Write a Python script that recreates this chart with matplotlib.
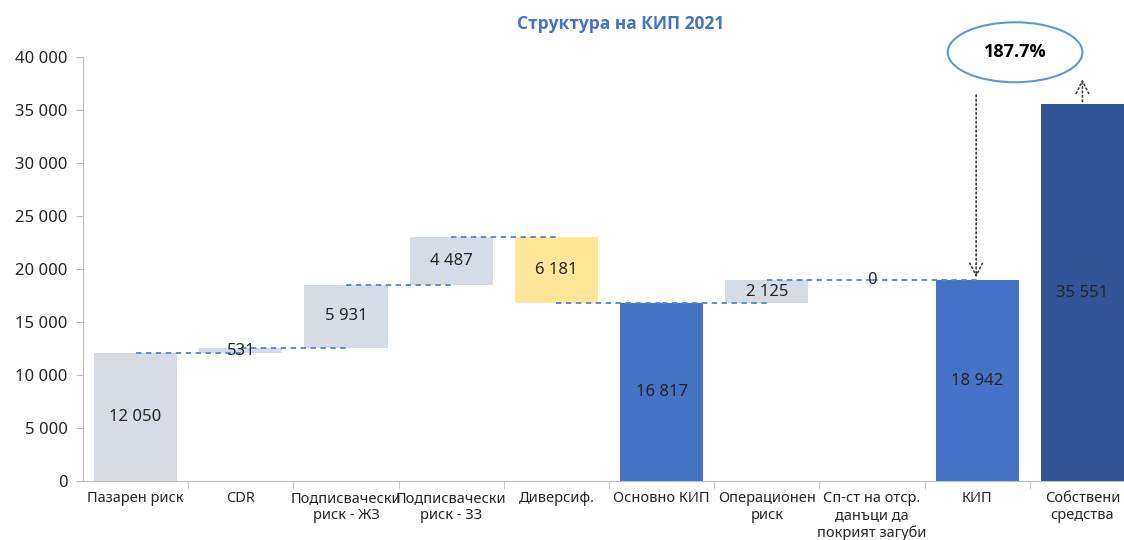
import numpy as np
import matplotlib.pyplot as plt
from matplotlib.patches import Ellipse

plt.rcParams['font.family'] = ['Liberation Sans Narrow', 'Noto Sans', 'DejaVu Sans']

kategorii = ["Пазарен риск", "CDR", "Подписвачески\nриск - ЖЗ", "Подписвачески\nриск - ЗЗ",
             "Диверсиф.", "Основно КИП", "Операционен\nриск",
             "Сп-ст на отср.\nданъци да\nпокрият загуби", "КИП", "Собствени\nсредства"]
stojnosti = [12050, 531, 5931, 4487, -6181, 16817, 2125, 0, 18942, 35551]
etiketi = ["12 050", "531", "5 931", "4 487", "6 181", "16 817", "2 125", "0", "18 942", "35 551"]
vid = ["d", "d", "d", "d", "d", "t", "d", "d", "t", "t"]   # d = стъпка, t = общо
cvetove = ["#D6DCE5", "#D6DCE5", "#D6DCE5", "#D6DCE5", "#FFE699", "#4472C4",
           "#D6DCE5", "#D6DCE5", "#4472C4", "#2F5597"]
procent = "187.7%"

# дъна и върхове на стълбовете
dno = []
vrah = []
nivo = []   # ниво след всеки стълб
suma = 0
for v, k in zip(stojnosti, vid):
    if k == "t":
        dno.append(0)
        vrah.append(v)
        suma = v
    else:
        nov = suma + v
        dno.append(min(suma, nov))
        vrah.append(max(suma, nov))
        suma = nov
    nivo.append(suma)

fig = plt.figure(figsize=(11.24, 5.4), dpi=100)
ax = fig.add_axes([0.0738, 0.109, 0.936, 0.785])
x = np.arange(len(kategorii))
visochini = np.array(vrah) - np.array(dno)
ax.bar(x, visochini, bottom=dno, width=0.79, color=cvetove, zorder=2)

# пунктирни връзки
for i in range(len(kategorii) - 2):
    ax.plot([x[i], x[i + 1]], [nivo[i], nivo[i]], ls=(0, (3, 2.5)), color="#4F86D1",
            lw=1.3, zorder=3)

for i in range(len(kategorii)):
    ax.text(x[i], (dno[i] + vrah[i]) / 2, etiketi[i], ha="center", va="center",
            fontsize=12, color="#262626", zorder=4, family=['Noto Sans', 'DejaVu Sans'])

ax.set_xlim(-0.5, len(kategorii) - 0.5)
ax.set_ylim(0, 40000)
yt = np.arange(0, 40001, 5000)
ax.set_yticks(yt)
ax.set_yticklabels([f"{v:,}".replace(",", " ") for v in yt], fontsize=12, color="#262626",
                   family=['Noto Sans', 'DejaVu Sans'])
ax.set_xticks(x)
ax.set_xticklabels(kategorii, fontsize=10.5, color="#262626", linespacing=1.2, va="top")
ax.set_xticks(x[:-1] + 0.5, minor=True)
ax.tick_params(axis="x", which="major", length=0, pad=7)
ax.tick_params(axis="x", which="minor", length=6, color="#BFBFBF")
ax.tick_params(axis="y", length=5, color="#BFBFBF", pad=6)
for s in ["top", "right"]:
    ax.spines[s].set_visible(False)
for s in ["left", "bottom"]:
    ax.spines[s].set_color("#BFBFBF")

# елипса с процента
el = Ellipse((8.36, 40470), 1.28, 5660, fill=False, edgecolor="#5B9BD5", lw=1.5,
             clip_on=False, zorder=5)
ax.add_patch(el)
ax.text(8.36, 40470, procent, ha="center", va="center", fontsize=13, fontweight="bold",
        family=['Open Sans', 'DejaVu Sans'], clip_on=False)
ax.annotate("", xy=(7.99, stojnosti[8]), xytext=(7.99, 36700),
            arrowprops=dict(arrowstyle="->,head_length=0.9,head_width=0.45", ls=":",
                            color="#404040", lw=1.2), annotation_clip=False)
ax.annotate("", xy=(9.0, 38200), xytext=(9.0, stojnosti[9]),
            arrowprops=dict(arrowstyle="->,head_length=0.9,head_width=0.45", ls=":",
                            color="#404040", lw=1.2), annotation_clip=False)

fig.text(0.552, 0.955, "Структура на КИП 2021", ha="center", va="center", fontsize=12.5,
         fontweight="bold", color="#4472C4", family=['Open Sans', 'DejaVu Sans'])

fig.savefig("out.png", dpi=100)
